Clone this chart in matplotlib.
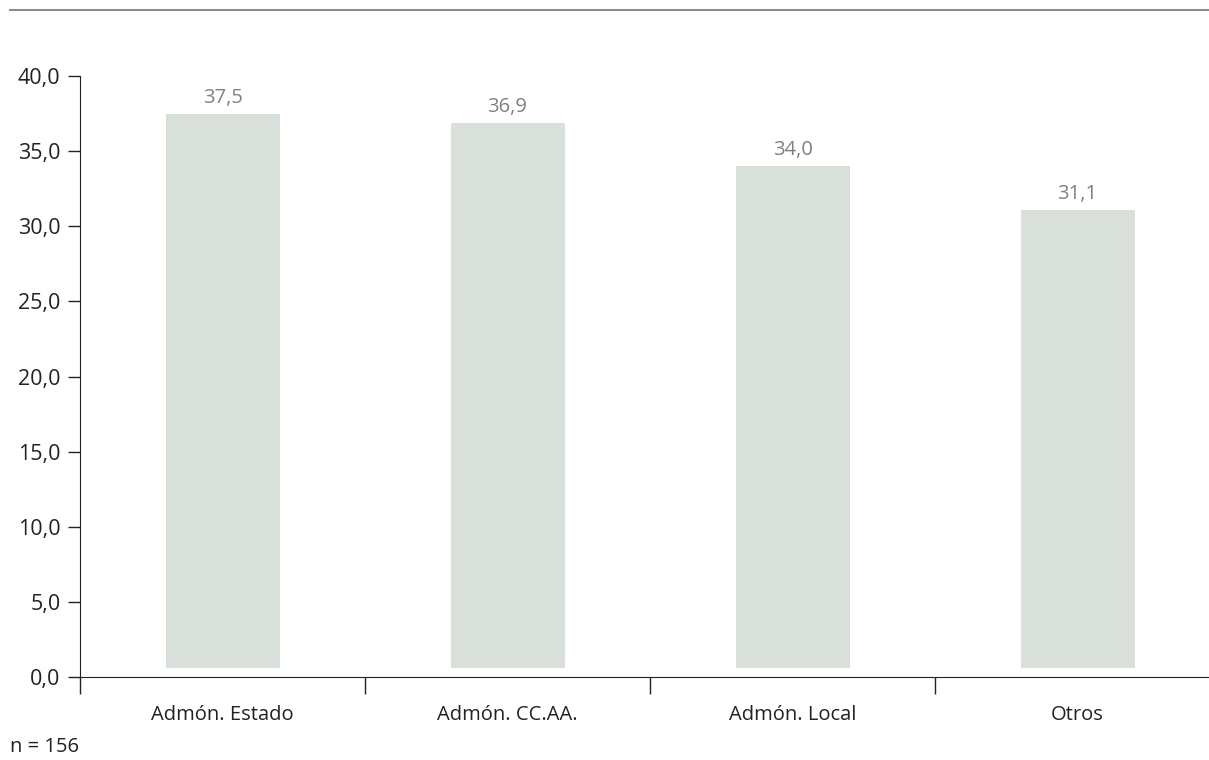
import matplotlib.pyplot as plt
import numpy as np

categorias = ['Admón. Estado', 'Admón. CC.AA.', 'Admón. Local', 'Otros']
valores = [37.5, 36.9, 34.0, 31.1]
yticks = np.arange(0, 45, 5)

plt.rcParams['font.family'] = ['Open Sans', 'DejaVu Sans']

fig = plt.figure(figsize=(12.09, 7.6), dpi=100)
# el eje x continúa hasta el borde derecho de la figura
ax = fig.add_axes([80 / 1209, 1 - 677 / 760, 1140 / 1209, 601 / 760])

x = np.arange(len(categorias))
base = 0.6
ax.bar(x, np.array(valores) - base, bottom=base, width=0.40, color='#d9e0d9')

for xi, v in zip(x, valores):
    ax.text(xi, v + 0.4, f'{v:.1f}'.replace('.', ','), ha='center', va='bottom',
            fontsize=14.5, color='#808080')

ax.set_xlim(-0.5, len(categorias) - 0.5)
ax.set_ylim(0, 40)
ax.set_yticks(yticks)
ax.set_yticklabels([f'{t:.1f}'.replace('.', ',') for t in yticks], fontsize=15.5)
ax.tick_params(axis='y', length=9, width=1, pad=5, color='#222222', labelcolor='#222222')

# categorías en minor ticks, separadores en major ticks
ax.set_xticks(np.arange(len(categorias)) - 0.5)
ax.set_xticklabels([])
ax.set_xticks(x, minor=True)
ax.set_xticklabels(categorias, minor=True, fontsize=14.5, color='#222222')
ax.tick_params(axis='x', which='major', length=12, width=1, color='#222222')
ax.tick_params(axis='x', which='minor', length=0, pad=20)

for s in ['top', 'right']:
    ax.spines[s].set_visible(False)
ax.spines['left'].set_color('#222222')
ax.spines['bottom'].set_color('#222222')

fig.add_artist(plt.Line2D([10 / 1209, 1], [1 - 9.5 / 760, 1 - 9.5 / 760],
                          color='#8c8c8c', lw=1.5, transform=fig.transFigure))
fig.text(10 / 1209, 1 - 747 / 760, 'n = 156', fontsize=14.5, color='#222222', va='center')

plt.savefig('out.png', dpi=100)
